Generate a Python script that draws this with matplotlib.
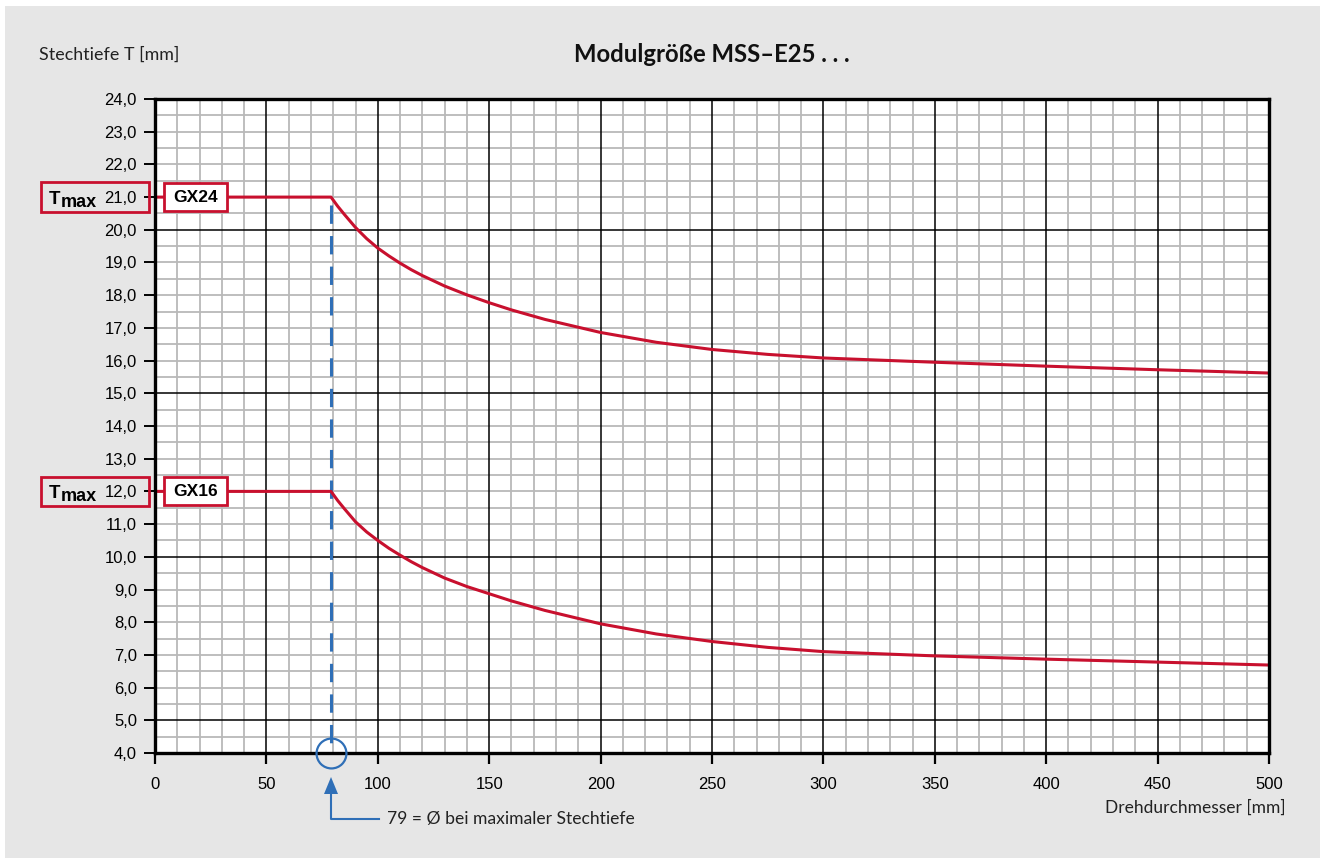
import matplotlib
matplotlib.use("Agg")
import matplotlib.pyplot as plt
from matplotlib.patches import Rectangle, Polygon
from matplotlib.lines import Line2D

# ---- data -------------------------------------------------------------
x_gx24 = [0, 79, 82, 85, 90, 95, 100, 105, 110, 115, 120, 130, 140, 150,
          160, 175, 200, 225, 250, 275, 300, 350, 400, 450, 500]
y_gx24 = [21.0, 21.0, 20.72, 20.47, 20.07, 19.73, 19.44, 19.2, 18.98, 18.78,
          18.6, 18.28, 18.01, 17.77, 17.55, 17.26, 16.86, 16.56, 16.34,
          16.19, 16.08, 15.95, 15.83, 15.72, 15.62]

x_gx16 = [0, 79, 82, 85, 90, 95, 100, 105, 110, 115, 120, 130, 140, 150,
          160, 175, 200, 225, 250, 275, 300, 350, 400, 450, 500]
y_gx16 = [12.0, 12.0, 11.72, 11.47, 11.07, 10.76, 10.5, 10.26, 10.05, 9.85,
          9.67, 9.35, 9.09, 8.87, 8.65, 8.36, 7.95, 7.64, 7.41, 7.23, 7.1,
          6.97, 6.87, 6.78, 6.69]

series_names = ["GX24", "GX16"]
tmax_values = [21.0, 12.0]
d_max = 79

x_ticks = [0, 50, 100, 150, 200, 250, 300, 350, 400, 450, 500]
x_tick_labels = ["0", "50", "100", "150", "200", "250", "300", "350", "400",
                 "450", "500"]
y_ticks = [4, 5, 6, 7, 8, 9, 10, 11, 12, 13, 14, 15, 16, 17, 18, 19, 20, 21,
           22, 23, 24]
y_tick_labels = ["4,0", "5,0", "6,0", "7,0", "8,0", "9,0", "10,0", "11,0",
                 "12,0", "13,0", "14,0", "15,0", "16,0", "17,0", "18,0",
                 "19,0", "20,0", "21,0", "22,0", "23,0", "24,0"]

title = "Modulgröße MSS–E25 . . ."
y_label = "Stechtiefe T [mm]"
x_label = "Drehdurchmesser [mm]"
note = f"{d_max} = Ø bei maximaler Stechtiefe"

# ---- style ------------------------------------------------------------
RED = "#c8102e"
BLUE = "#2f6fb7"
BG = "#e6e6e6"
GRID_MINOR = "#b9b9b9"
TICK_FONT = "Liberation Sans"
TEXT_FONT = "Lato"

W, H = 1320, 859
fig = plt.figure(figsize=(W / 100, H / 100), dpi=100)
fig.patch.set_facecolor("white")
fig.patches.append(Rectangle((5 / W, 1 / H), 1 - 5 / W, 852 / H,
                             transform=fig.transFigure, facecolor=BG,
                             edgecolor="none", zorder=-10))

ax = fig.add_axes([155 / W, (H - 753) / H, 1114 / W, 654 / H])
ax.set_facecolor("white")
ax.set_xlim(0, 500)
ax.set_ylim(4, 24)

# grid: fine gray mesh and black main lines
for gx in range(10, 500, 10):
    major = gx % 50 == 0
    ax.axvline(gx, color="black" if major else GRID_MINOR,
               lw=1.1 if major else 1.3, zorder=2 if major else 1)
for i in range(1, 40):
    gy = 4 + i * 0.5
    major = gy % 5 == 0
    ax.axhline(gy, color="black" if major else GRID_MINOR,
               lw=1.1 if major else 1.3, zorder=2 if major else 1)

for sp in ax.spines.values():
    sp.set_linewidth(2.4)
    sp.set_color("black")
    sp.set_zorder(6)

ax.set_xticks(x_ticks)
ax.set_xticklabels(x_tick_labels, fontfamily=TICK_FONT, fontsize=12)
ax.set_yticks(y_ticks)
ax.set_yticklabels(y_tick_labels, fontfamily=TICK_FONT, fontsize=12)
ax.tick_params(axis="x", length=8, width=1.6, color="black", pad=9)
ax.tick_params(axis="y", length=8, width=1.4, pad=5)
for val, tick in zip(y_ticks, ax.yaxis.get_major_ticks()):
    tick.tick1line.set_color("black" if val % 5 == 0 else GRID_MINOR)

# curves
ax.plot(x_gx24, y_gx24, color=RED, lw=2.2, zorder=4, solid_joinstyle="round")
ax.plot(x_gx16, y_gx16, color=RED, lw=2.2, zorder=4, solid_joinstyle="round")

# dashed marker at the diameter of maximum depth
ax.plot([d_max, d_max], [max(tmax_values) - 0.25, 4], color=BLUE, lw=2.2,
        dashes=(6.0, 4.0), zorder=3)
ax.plot(d_max, 4, marker="o", markersize=21.5, mfc="none", mec=BLUE,
        mew=1.6, zorder=7, clip_on=False)

# arrow and note below the axis (pixel offsets from the marked point)
fig.canvas.draw()
tip = ax.transData.transform((d_max, 4))
inv = fig.transFigure.inverted()
head = [tip + (0, -24), tip + (-7, -41), tip + (7, -41)]
fig.patches.append(Polygon([inv.transform(p) for p in head], closed=True,
                           transform=fig.transFigure, facecolor=BLUE,
                           edgecolor="none", zorder=7))
leader = [tip + (0, -40), tip + (0, -66), tip + (48, -66)]
lp = [inv.transform(p) for p in leader]
fig.lines.append(Line2D([p[0] for p in lp], [p[1] for p in lp],
                        transform=fig.transFigure, color=BLUE, lw=1.5))
tx = inv.transform(tip + (56, -66))
fig.text(tx[0], tx[1], note, fontfamily=TEXT_FONT, fontsize=12.6,
         color="#222222", ha="left", va="center")

# labels for the two tool widths
ytr = ax.get_yaxis_transform()
for name, tv in zip(series_names, tmax_values):
    hbox = 0.43
    ax.add_patch(Rectangle((4.0, tv - hbox), 28.3, 2 * hbox, facecolor="white",
                           edgecolor=RED, lw=2.0, zorder=5))
    ax.text(18.15, tv, name, ha="center", va="center", fontfamily=TICK_FONT,
            fontweight="bold", fontsize=12.5, zorder=6)
    ax.add_patch(Rectangle((-114 / 1114, tv - hbox - 0.02), 108 / 1114,
                           2 * hbox + 0.04, transform=ytr, facecolor="none",
                           edgecolor=RED, lw=2.0, zorder=5, clip_on=False))
    t = ax.text(-106 / 1114, tv - 0.2, "T", transform=ytr, ha="left",
                va="baseline", fontfamily=TICK_FONT, fontweight="bold",
                fontsize=13.5)
    ax.annotate("max", xy=(1, 0), xycoords=t, xytext=(0, -3),
                textcoords="offset pixels", ha="left", va="bottom",
                fontfamily=TICK_FONT, fontweight="bold", fontsize=13)

# titles
fig.text(39 / W, 1 - 55 / H, y_label, fontfamily=TEXT_FONT, fontsize=12.9,
         color="#222222", ha="left", va="center")
fig.text(712 / W, 1 - 54 / H, title, fontfamily=TEXT_FONT, fontweight="bold",
         fontsize=17.2, color="#111111", ha="center", va="center")
fig.text(1286 / W, 1 - 808 / H, x_label, fontfamily=TEXT_FONT, fontsize=12.5,
         color="#222222", ha="right", va="center")

fig.savefig("out.png", dpi=100, facecolor=fig.get_facecolor())
